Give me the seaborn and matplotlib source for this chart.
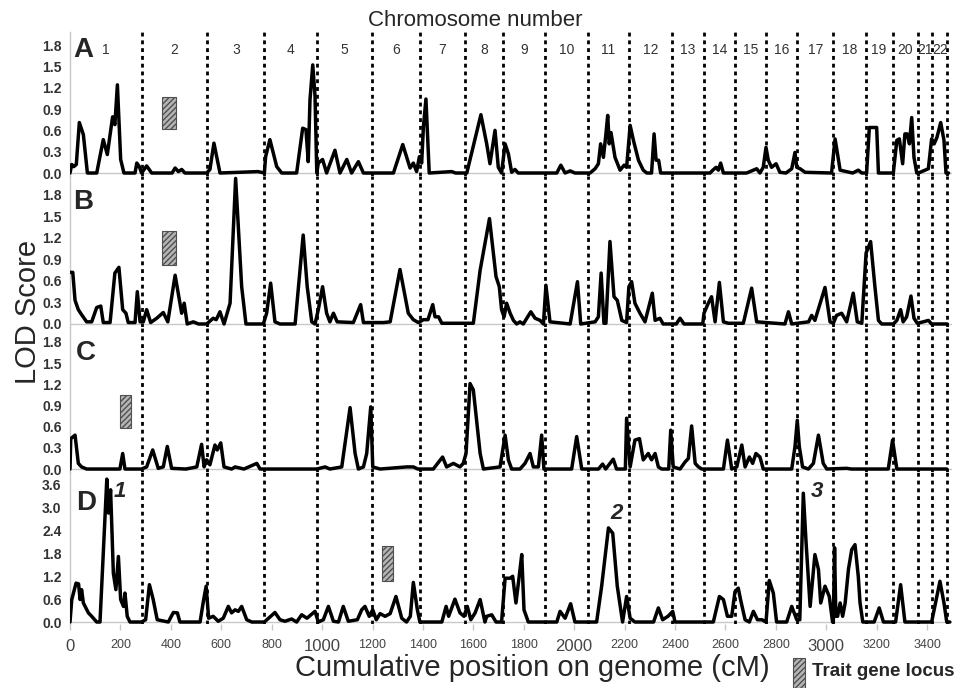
import matplotlib
matplotlib.use('Agg')
import matplotlib.pyplot as plt
import seaborn as sns
from matplotlib.patches import Rectangle

sns.set_style('white')
plt.rcParams['font.family'] = ['Liberation Sans', 'DejaVu Sans']
plt.rcParams['hatch.linewidth'] = 1.0

# chromosome boundaries (cumulative cM) and names
chrom_bounds = [284, 545, 771, 979, 1199, 1388, 1567, 1719, 1884, 2056, 2217,
                2389, 2515, 2638, 2761, 2885, 3028, 3156, 3263, 3363, 3420, 3480]
chrom_names = ['1', '2', '3', '4', '5', '6', '7', '8', '9', '10', '11',
               '12', '13', '14', '15', '16', '17', '18', '19', '20', '21', '22']

# panel A
a_pos = [0, 7, 15, 25, 37, 53, 69, 106, 132, 148, 169, 178, 188, 201, 214, 258, 265, 275, 284,
         304, 324, 405, 417, 430, 443, 456, 542, 555, 571, 595, 746, 771, 776, 793, 820, 840,
         899, 923, 936, 945, 952, 963, 972, 979, 985, 1002, 1018, 1051, 1071, 1098, 1117, 1144,
         1164, 1283, 1320, 1349, 1362, 1375, 1386, 1395, 1402, 1412, 1425, 1514, 1530, 1574,
         1630, 1653, 1666, 1686, 1699, 1712, 1726, 1739, 1752, 1765, 1778, 1931, 1947, 1964,
         1984, 2003, 2063, 2083, 2096, 2105, 2116, 2126, 2133, 2139, 2146, 2162, 2182, 2198,
         2208, 2222, 2235, 2255, 2274, 2288, 2307, 2317, 2325, 2335, 2343, 2539, 2550, 2563,
         2572, 2581, 2592, 2684, 2711, 2724, 2737, 2750, 2761, 2770, 2783, 2801, 2816, 2840,
         2863, 2876, 2883, 2896, 2916, 3021, 3035, 3055, 3105, 3127, 3141, 3160, 3171, 3200,
         3207, 3266, 3280, 3290, 3303, 3312, 3321, 3330, 3339, 3348, 3359, 3372, 3405, 3418,
         3428, 3439, 3454, 3467, 3475, 3485]
a_lod = [0, 0.12, 0.09, 0.12, 0.71, 0.54, 0, 0, 0.47, 0.26, 0.79, 0.68, 1.24, 0.19, 0, 0, 0.14, 0.09, 0,
         0.10, 0, 0, 0.07, 0.02, 0.05, 0, 0, 0.05, 0.42, 0, 0.02, 0, 0.23, 0.47, 0.09, 0,
         0, 0.63, 0.61, 0.16, 1.03, 1.52, 1.08, 0, 0.14, 0.19, 0, 0.32, 0, 0.19, 0, 0.16,
         0, 0, 0.40, 0.07, 0.14, 0.02, 0.23, 0.14, 0.65, 1.04, 0, 0.02, 0, 0,
         0.82, 0.41, 0.13, 0.60, 0.08, 0, 0.41, 0.27, 0.01, 0.05, 0, 0, 0.11, 0,
         0.03, 0, 0, 0.06, 0.13, 0.41, 0.22, 0.55, 0.81, 0.41, 0.57, 0.22, 0.04, 0.11,
         0.08, 0.67, 0.46, 0.18, 0.04, 0, 0, 0.55, 0.18, 0.18, 0, 0, 0.04, 0.08,
         0.04, 0.14, 0, 0, 0.04, 0.06, 0, 0.08, 0.36, 0.18, 0.08, 0.13, 0.01, 0,
         0.06, 0.29, 0.08, 0.06, 0.01, 0, 0.48, 0.04, 0, 0.04, 0, 0, 0.64, 0.64,
         0, 0, 0.46, 0.48, 0.13, 0.55, 0.55, 0.41, 0.78, 0.22, 0, 0.01, 0.06, 0.48,
         0.41, 0.50, 0.71, 0.46, 0, 0]

# panel B
b_pos = [0, 11, 20, 33, 46, 66, 86, 106, 122, 132, 159, 178, 194, 209, 222, 231, 258, 267, 278,
         291, 304, 320, 344, 370, 388, 417, 443, 453, 465, 489, 510, 542, 568, 580, 595, 611,
         635, 657, 681, 698, 767, 780, 796, 813, 833, 893, 925, 941, 959, 972, 985, 1002, 1018,
         1031, 1045, 1060, 1124, 1153, 1164, 1243, 1270, 1309, 1342, 1362, 1382, 1402, 1420,
         1439, 1448, 1462, 1475, 1600, 1627, 1664, 1690, 1703, 1712, 1722, 1732, 1746, 1759,
         1772, 1785, 1798, 1828, 1845, 1865, 1878, 1888, 1904, 1984, 2013, 2026, 2083, 2096,
         2107, 2118, 2126, 2142, 2158, 2171, 2189, 2208, 2217, 2228, 2241, 2261, 2281, 2310,
         2321, 2340, 2353, 2405, 2420, 2436, 2510, 2515, 2532, 2545, 2559, 2576, 2592, 2612,
         2671, 2704, 2724, 2836, 2850, 2863, 2930, 2942, 2955, 2995, 3015, 3028, 3041, 3061,
         3081, 3107, 3123, 3141, 3158, 3176, 3193, 3207, 3220, 3266, 3280, 3295, 3305, 3319,
         3336, 3348, 3361, 3385, 3405, 3418, 3480]
b_lod = [0.72, 0.72, 0.33, 0.20, 0.13, 0.03, 0.03, 0.23, 0.25, 0.02, 0.02, 0.71, 0.79, 0.20, 0.15, 0.02, 0.02, 0.45, 0.03,
         0.03, 0.20, 0.02, 0.08, 0.16, 0.03, 0.68, 0.15, 0.29, 0, 0.03, 0, 0, 0.08, 0.06, 0.17, 0,
         0.29, 2.03, 0.52, 0, 0, 0.15, 0.57, 0.03, 0, 0, 1.24, 0.52, 0.03, 0, 0.20, 0.52, 0.15,
         0.03, 0.15, 0.03, 0.02, 0.27, 0.02, 0.02, 0.03, 0.76, 0.15, 0.06, 0.02, 0.06, 0.06,
         0.27, 0.10, 0.10, 0.01, 0.01, 0.75, 1.47, 0.66, 0.52, 0.20, 0.10, 0.29, 0.15, 0.05,
         0, 0.03, 0, 0.17, 0.08, 0.05, 0, 0.54, 0.03, 0, 0.59, 0, 0.03, 0.10,
         0.71, 0.01, 0.01, 1.15, 0.38, 0.33, 0.05, 0.02, 0.52, 0.59, 0.29, 0.15, 0.03, 0.43,
         0.05, 0.08, 0, 0, 0.08, 0, 0, 0.15, 0.29, 0.38, 0.03, 0.58, 0.03, 0.01,
         0.01, 0.50, 0.03, 0, 0.17, 0, 0.03, 0.12, 0.05, 0.51, 0.03, 0.01, 0.12, 0.15,
         0.03, 0.43, 0.03, 0.01, 0.99, 1.15, 0.52, 0.05, 0, 0, 0.05, 0.20, 0.03, 0.10,
         0.39, 0.08, 0.01, 0.03, 0.05, 0, 0]

# panel C
c_pos = [0, 3, 20, 33, 46, 66, 198, 209, 218, 284, 304, 328, 350, 370, 386, 403, 460, 503, 522,
         532, 542, 555, 575, 584, 598, 611, 641, 655, 690, 741, 754, 979, 1012, 1031, 1078,
         1111, 1131, 1144, 1164, 1177, 1193, 1201, 1230, 1336, 1362, 1380, 1441, 1478, 1494,
         1521, 1547, 1560, 1571, 1587, 1600, 1627, 1640, 1706, 1726, 1739, 1752, 1785, 1805,
         1825, 1838, 1858, 1871, 1880, 1990, 2010, 2030, 2096, 2113, 2125, 2155, 2168, 2203,
         2208, 2222, 2241, 2259, 2274, 2294, 2307, 2321, 2334, 2347, 2375, 2383, 2393, 2420,
         2440, 2453, 2466, 2480, 2493, 2506, 2592, 2608, 2625, 2645, 2665, 2678, 2695, 2708,
         2721, 2737, 2750, 2863, 2876, 2885, 2893, 2906, 2929, 2949, 2969, 2988, 3002, 3081,
         3100, 3246, 3263, 3280, 3478]
c_lod = [0, 0.43, 0.48, 0.08, 0.03, 0, 0, 0.22, 0, 0, 0.03, 0.27, 0.01, 0.03, 0.32, 0.01, 0, 0.03, 0.35,
         0.03, 0.13, 0.06, 0.34, 0.27, 0.37, 0.03, 0, 0.03, 0, 0.08, 0, 0, 0.03, 0, 0.03,
         0.87, 0.22, 0, 0.03, 0.22, 0.88, 0.03, 0, 0.03, 0.03, 0, 0, 0.17, 0.03,
         0.08, 0.03, 0.08, 0.22, 1.21, 1.12, 0.22, 0, 0.03, 0.48, 0.13, 0, 0, 0.08,
         0.22, 0.03, 0.03, 0.48, 0, 0, 0.46, 0, 0, 0.07, 0, 0.14, 0, 0,
         0.72, 0.03, 0.41, 0.43, 0.13, 0.22, 0.13, 0.22, 0.03, 0, 0, 0.55, 0.03, 0,
         0.10, 0.15, 0.61, 0.08, 0.03, 0, 0, 0.41, 0, 0.03, 0.34, 0.03, 0.17, 0.08,
         0.22, 0.17, 0, 0, 0.32, 0.69, 0.32, 0.03, 0, 0.08, 0.48, 0.08, 0, 0.01,
         0, 0, 0.41, 0, 0]

# panel D
d_pos = [0, 7, 24, 34, 40, 46, 53, 63, 73, 86, 106, 119, 132, 146, 153, 161, 172, 182, 192, 201,
         212, 218, 227, 238, 284, 300, 315, 330, 346, 390, 410, 426, 436, 516, 529, 540, 550,
         568, 588, 608, 628, 641, 655, 668, 681, 701, 721, 771, 813, 833, 853, 879, 899, 919,
         940, 972, 985, 1005, 1025, 1045, 1065, 1084, 1104, 1140, 1157, 1170, 1187, 1201, 1215,
         1230, 1250, 1270, 1293, 1316, 1335, 1350, 1362, 1378, 1388, 1475, 1492, 1502, 1527,
         1547, 1563, 1576, 1590, 1607, 1627, 1646, 1653, 1673, 1690, 1712, 1726, 1746, 1756,
         1769, 1782, 1792, 1801, 1818, 1931, 1944, 1964, 1986, 2003, 2089, 2109, 2136, 2153,
         2171, 2192, 2208, 2222, 2241, 2315, 2334, 2351, 2372, 2391, 2400, 2552, 2576, 2592,
         2608, 2625, 2638, 2651, 2660, 2678, 2695, 2711, 2727, 2745, 2761, 2774, 2790, 2803,
         2843, 2863, 2883, 2895, 2909, 2920, 2936, 2955, 2969, 2978, 2995, 3012, 3025, 3028,
         3033, 3038, 3045, 3055, 3065, 3075, 3088, 3101, 3114, 3127, 3134, 3145, 3190, 3210,
         3227, 3275, 3295, 3312, 3418, 3436, 3451, 3467, 3478, 3490]
d_lod = [0, 0.59, 1.02, 1.00, 0.59, 0.85, 0.50, 0.37, 0.24, 0.15, 0, 0, 1.81, 3.75, 2.86, 3.47, 1.28, 0.85, 1.72, 0.59,
         0.41, 0.76, 0.15, 0, 0, 0.06, 0.98, 0.59, 0.06, 0, 0.25, 0.24, 0, 0, 0.54, 0.94, 0.10,
         0.15, 0.02, 0.10, 0.41, 0.24, 0.32, 0.28, 0.41, 0.06, 0, 0, 0.25, 0.06, 0.02, 0.08, 0, 0.19,
         0.10, 0.28, 0, 0.06, 0.41, 0.02, 0, 0.41, 0.02, 0.06, 0.32, 0.41, 0.15, 0.32, 0.06,
         0.22, 0.15, 0.22, 0.67, 0.10, 0, 0.15, 1.04, 0.32, 0, 0, 0.41, 0.15, 0.60,
         0.24, 0.15, 0.41, 0.06, 0.24, 0.59, 0, 0.15, 0.19, 0, 0, 1.15, 1.15, 1.20,
         0.50, 1.20, 1.77, 0.32, 0, 0, 0.28, 0.10, 0.48, 0, 0, 0.94, 2.47, 2.33,
         0.94, 0, 0.67, 0.10, 0, 0, 0.37, 0.06, 0.15, 0.28, 0, 0, 0.67, 0.59,
         0.15, 0.15, 0.80, 0.89, 0.59, 0.06, 0, 0.28, 0.06, 0.06, 0, 1.09, 0.76, 0,
         0, 0.41, 0.06, 0.06, 3.38, 2.08, 0.41, 1.77, 1.38, 0.50, 0.94, 0.67, 0, 0,
         1.95, 0.15, 0.15, 0.50, 0.15, 0.50, 1.38, 1.90, 2.03, 1.20, 0.50, 0, 0, 0.37,
         0, 0, 0.98, 0, 0, 0.59, 1.07, 0.50, 0, 0]

# trait gene locus boxes per panel: start, end, low, high
locus_start = [365, 365, 198, 1238]
locus_end = [421, 421, 240, 1282]
locus_low = [0.62, 0.82, 0.58, 1.08]
locus_high = [1.07, 1.29, 1.05, 2.00]

# peak labels in panel D
peak_labels = ['1', '2', '3']
peak_pos = [198, 2170, 2963]
peak_lod = [3.42, 2.85, 3.42]

panel_letters = ['A', 'B', 'C', 'D']
series = [(a_pos, a_lod), (b_pos, b_lod), (c_pos, c_lod), (d_pos, d_lod)]

W, H = 964, 688
fig = plt.figure(figsize=(W / 100, H / 100), dpi=100)
fig.patch.set_facecolor('white')

# pixel layout: (top, bottom) of each panel, y limits
rows = [(32, 176), (176, 327), (327, 472), (472, 624)]
ylims = [(-0.042, 1.983), (-0.042, 2.064), (-0.042, 2.011), (-0.052, 3.937)]
yticks = [[0, 0.3, 0.6, 0.9, 1.2, 1.5, 1.8]] * 3 + [[0, 0.6, 1.2, 1.8, 2.4, 3.0, 3.6]]
letter_y = [1.73, 1.70, 1.64, 3.12]
letter_x = [12, 12, 25, 25]
x0, x1 = 70, 952.3

axes = []
for i, (top, bot) in enumerate(rows):
    ax = fig.add_axes([x0 / W, 1 - bot / H, (x1 - x0) / W, (bot - top) / H])
    ax.set_facecolor('none')
    axes.append(ax)
    pos, lod = series[i]
    ax.axhline(0, color='#c8c8c8', lw=1.0, zorder=0)
    for b in chrom_bounds:
        ax.axvline(b, color='black', lw=2.0, ls=(0, (1.4, 1.4)), zorder=1)
    sns.lineplot(x=pos, y=lod, ax=ax, sort=False, estimator=None,
                 color='black', lw=2.5, zorder=3,
                 solid_joinstyle='round', solid_capstyle='round')
    ax.add_patch(Rectangle((locus_start[i], locus_low[i]),
                           locus_end[i] - locus_start[i],
                           locus_high[i] - locus_low[i],
                           facecolor='#b5b5b5', edgecolor='#505050',
                           hatch='//////', lw=0.8, zorder=4))
    ax.set_xlim(0, 3500)
    ax.set_ylim(*ylims[i])
    ax.set_yticks(yticks[i])
    ax.set_yticklabels([f'{v:.1f}' for v in yticks[i]], fontweight='bold',
                       fontsize=10, color='#333333')
    ax.tick_params(axis='y', length=0, pad=6)
    for s in ['top', 'right', 'bottom']:
        ax.spines[s].set_visible(False)
    ax.spines['left'].set_color('#c8c8c8')
    ax.spines['left'].set_linewidth(1.0)
    ax.text(letter_x[i], letter_y[i], panel_letters[i], fontsize=20,
            fontweight='bold', ha='left', va='center', zorder=5)
    if i < 3:
        ax.set_xticks([])
    ax.set_xlabel('')
    ax.set_ylabel('')

# chromosome numbers in panel A
edges = [0] + chrom_bounds
for j, name in enumerate(chrom_names):
    axes[0].text((edges[j] + edges[j + 1]) / 2, 1.73, name, fontsize=10,
                 color='#333333', ha='center', va='center')

# bottom axis of panel D
axd = axes[3]
xt = list(range(0, 3600, 200))
axd.set_xticks(xt)
axd.set_xticklabels([str(v) for v in xt], color='#444444')
for v, lab in zip(xt, axd.get_xticklabels()):
    lab.set_fontsize(12 if v % 1000 == 0 else 9)
axd.tick_params(axis='x', length=4, width=1, color='#c8c8c8', pad=7, direction='out',
                bottom=True)

for lab, px, py in zip(peak_labels, peak_pos, peak_lod):
    axd.text(px, py, lab, fontsize=16, fontweight='bold', style='italic',
             ha='center', va='center', zorder=5)

fig.text(475 / W, 1 - 20 / H, 'Chromosome number', fontsize=16,
         ha='center', va='center')
fig.text(28 / W, 1 - 312 / H, 'LOD Score', fontsize=21, rotation=90,
         ha='center', va='center')
fig.text(532 / W, 1 - 668 / H, 'Cumulative position on genome (cM)', fontsize=21,
         ha='center', va='center')

# legend for trait gene locus
fig.add_artist(Rectangle((793 / W, 0), 12 / W, 30 / H, transform=fig.transFigure,
                         facecolor='#b5b5b5', edgecolor='#505050', hatch='//////', lw=0.8))
fig.text(812 / W, 1 - 671 / H, 'Trait gene locus', fontsize=13.5, fontweight='bold',
         ha='left', va='center')

fig.savefig('out.png', dpi=100, facecolor='white')
